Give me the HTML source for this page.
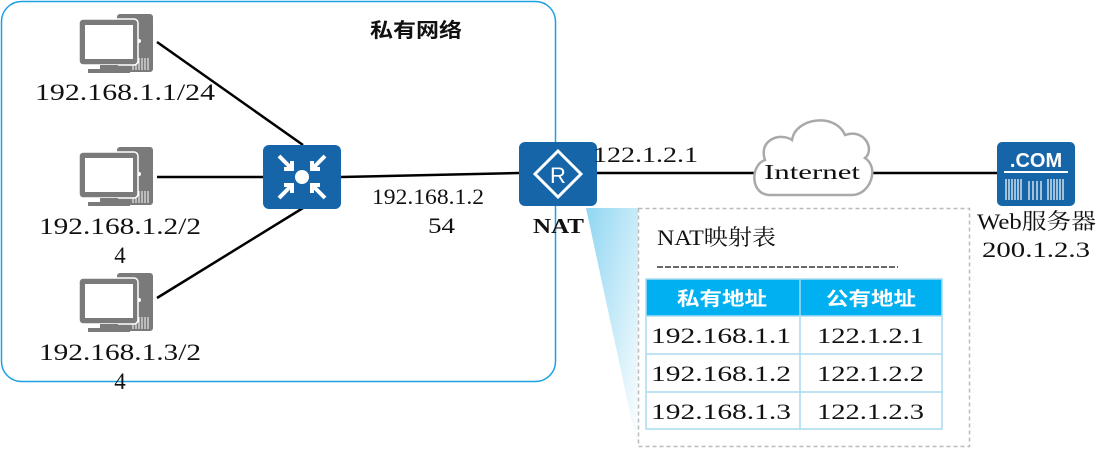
<!DOCTYPE html>
<html><head><meta charset="utf-8"><style>
body{margin:0;background:#fff}
text{font-family:"Liberation Serif","Noto Serif CJK SC",serif;fill:#111}
.b{font-family:"Liberation Serif","Noto Sans CJK SC",sans-serif;font-weight:bold}
</style></head><body>
<svg width="1116" height="460" xmlns="http://www.w3.org/2000/svg">
<defs>
<linearGradient id="g" x1="0" y1="0" x2="1" y2="1"><stop offset="0" stop-color="#8fd6f2"/><stop offset="1" stop-color="#ffffff"/></linearGradient>
<g id="pc">
<rect x="57" y="14" width="36" height="58" rx="3" fill="#7a7a7a"/>
<rect x="61" y="21" width="17" height="3" fill="#fff"/><rect x="61" y="26" width="17" height="3" fill="#fff"/>
<circle cx="79" cy="41" r="2" fill="#fff"/>
<g stroke="#fff" stroke-width="1"><line x1="73" y1="58" x2="73" y2="70"/><line x1="76" y1="58" x2="76" y2="70"/><line x1="79" y1="58" x2="79" y2="70"/><line x1="82" y1="58" x2="82" y2="70"/><line x1="85" y1="58" x2="85" y2="70"/><line x1="88" y1="58" x2="88" y2="70"/></g>
<rect x="19" y="19" width="59" height="46" rx="4" fill="#7a7a7a" stroke="#fff" stroke-width="1.5"/>
<rect x="25" y="25" width="48" height="34" fill="#fff"/>
<rect x="40" y="65" width="18" height="4" fill="#7a7a7a"/>
<rect x="28" y="69" width="42" height="4" fill="#7a7a7a"/>
</g>
</defs>
<rect x="1.5" y="1.5" width="554" height="380" rx="20" fill="none" stroke="#1ba1e2" stroke-width="1.5"/>
<text x="370" y="37" class="b" font-size="20" textLength="92" lengthAdjust="spacingAndGlyphs">私有网络</text>
<g stroke="#000" stroke-width="2.5" fill="none">
<line x1="157" y1="42" x2="303" y2="145"/>
<line x1="157" y1="177" x2="263" y2="177"/>
<line x1="157" y1="298" x2="303" y2="208"/>
<line x1="341" y1="177" x2="519" y2="173"/>
<line x1="597" y1="173" x2="997" y2="173"/>
</g>
<use href="#pc" x="60" y="0"/>
<use href="#pc" x="60" y="133"/>
<use href="#pc" x="60" y="259"/>
<g font-size="23">
<text x="35" y="100" textLength="180" lengthAdjust="spacingAndGlyphs">192.168.1.1/24</text>
<text x="39" y="234" textLength="162" lengthAdjust="spacingAndGlyphs">192.168.1.2/2</text>
<text x="120" y="263" text-anchor="middle">4</text>
<text x="39" y="360" textLength="162" lengthAdjust="spacingAndGlyphs">192.168.1.3/2</text>
<text x="120" y="389" text-anchor="middle">4</text>
</g>
<!-- switch -->
<rect x="263" y="145" width="78" height="64" rx="6" fill="#1565a8"/>
<circle cx="302" cy="177" r="7" fill="#fff"/>
<g stroke="#fff" stroke-width="4" fill="none">
<path d="M279 156 L292 169 M284 169 L292 169 L292 161"/>
<path d="M325 156 L312 169 M320 169 L312 169 L312 161"/>
<path d="M279 198 L292 185 M284 185 L292 185 L292 193"/>
<path d="M325 198 L312 185 M320 185 L312 185 L312 193"/>
</g>
<!-- router -->
<rect x="519" y="142" width="78" height="64" rx="6" fill="#1565a8"/>
<path d="M558 151 L581 174 L558 197 L535 174 Z" fill="none" stroke="#fff" stroke-width="3"/>
<text x="558" y="183" text-anchor="middle" font-size="22" style="fill:#fff;font-family:'Liberation Sans',sans-serif">R</text>
<text x="533" y="233" class="b" font-size="21" textLength="51" lengthAdjust="spacingAndGlyphs">NAT</text>
<g font-size="22">
<text x="372" y="204" textLength="112" lengthAdjust="spacingAndGlyphs">192.168.1.2</text>
<text x="428" y="233" textLength="27" lengthAdjust="spacingAndGlyphs">54</text>
<text x="593" y="162" textLength="105" lengthAdjust="spacingAndGlyphs">122.1.2.1</text>
</g>
<!-- cloud -->
<path d="M770 195 C750 195 750 165 765 160 C758 140 780 132 792 140 C795 118 835 112 845 135 C865 128 875 150 865 158 C880 168 870 195 852 195 Z" fill="#fff" stroke="#a9a9a9" stroke-width="2.5"/>
<text x="764" y="179" font-size="21" textLength="96" lengthAdjust="spacingAndGlyphs">Internet</text>
<!-- server -->
<rect x="997" y="142" width="78" height="64" rx="5" fill="#1565a8"/>
<text x="1036" y="167" text-anchor="middle" style="fill:#fff;font-family:'Liberation Sans',sans-serif;font-weight:bold" font-size="20">.COM</text>
<rect x="1004" y="171" width="64" height="2" fill="#fff"/>
<g stroke="#fff" stroke-width="1.2">
<line x1="1006" y1="179" x2="1006" y2="200"/><line x1="1009" y1="179" x2="1009" y2="200"/><line x1="1012" y1="179" x2="1012" y2="200"/><line x1="1015" y1="179" x2="1015" y2="200"/><line x1="1018" y1="179" x2="1018" y2="200"/><line x1="1021" y1="179" x2="1021" y2="200"/>
<line x1="1029" y1="181" x2="1029" y2="200"/><line x1="1033" y1="181" x2="1033" y2="200"/><line x1="1037" y1="181" x2="1037" y2="200"/><line x1="1041" y1="181" x2="1041" y2="200"/>
<line x1="1048" y1="179" x2="1048" y2="200"/><line x1="1051" y1="179" x2="1051" y2="200"/><line x1="1054" y1="179" x2="1054" y2="200"/><line x1="1057" y1="179" x2="1057" y2="200"/><line x1="1060" y1="179" x2="1060" y2="200"/><line x1="1063" y1="179" x2="1063" y2="200"/>
</g>
<g font-size="22">
<text x="977" y="229" textLength="119" lengthAdjust="spacingAndGlyphs">Web服务器</text>
<text x="982" y="257" textLength="108" lengthAdjust="spacingAndGlyphs">200.1.2.3</text>
</g>
<!-- funnel -->
<polygon points="586,208 638,208 638,450" fill="url(#g)"/>
<rect x="638.5" y="208.5" width="331" height="238" fill="#fff" stroke="#bbb" stroke-width="1.5" stroke-dasharray="4,3"/>
<text x="657" y="245" font-size="22" textLength="119" lengthAdjust="spacingAndGlyphs">NAT映射表</text>
<line x1="657" y1="267" x2="898" y2="267" stroke="#111" stroke-width="1.2" stroke-dasharray="6,2"/>
<rect x="646" y="279" width="296" height="37" fill="#00b0f0"/>
<g fill="none" stroke="#a8dcf0" stroke-width="1.5">
<rect x="646" y="279" width="296" height="150"/>
<line x1="800" y1="279" x2="800" y2="429"/>
<line x1="646" y1="316" x2="942" y2="316"/>
<line x1="646" y1="354" x2="942" y2="354"/>
<line x1="646" y1="392" x2="942" y2="392"/>
</g>
<text x="677" y="305" class="b" style="fill:#fff" font-size="19" textLength="90" lengthAdjust="spacingAndGlyphs">私有地址</text>
<text x="826" y="305" class="b" style="fill:#fff" font-size="19" textLength="90" lengthAdjust="spacingAndGlyphs">公有地址</text>
<g font-size="22">
<text x="651" y="343" textLength="140" lengthAdjust="spacingAndGlyphs">192.168.1.1</text>
<text x="817" y="343" textLength="107" lengthAdjust="spacingAndGlyphs">122.1.2.1</text>
<text x="651" y="381" textLength="140" lengthAdjust="spacingAndGlyphs">192.168.1.2</text>
<text x="817" y="381" textLength="107" lengthAdjust="spacingAndGlyphs">122.1.2.2</text>
<text x="651" y="419" textLength="140" lengthAdjust="spacingAndGlyphs">192.168.1.3</text>
<text x="817" y="419" textLength="107" lengthAdjust="spacingAndGlyphs">122.1.2.3</text>
</g>
</svg>
</body></html>
